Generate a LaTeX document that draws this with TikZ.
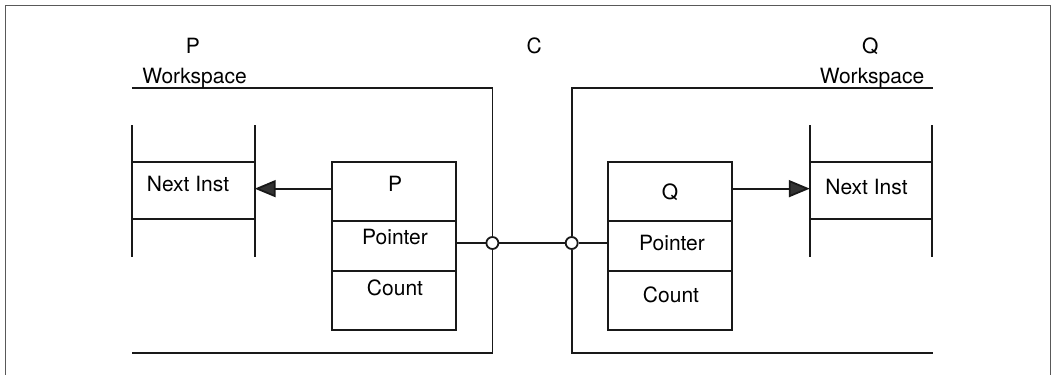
\documentclass[tikz,border=0pt]{standalone}
\usepackage{fontspec}
\setmainfont{TeX Gyre Heros}
\usetikzlibrary{arrows.meta}
\begin{document}
\begin{tikzpicture}[x=1pt,y=-1pt,
  ln/.style={line width=1.8pt, draw=black!90},
  cell/.style={ln, rectangle, inner sep=0pt, minimum width=123.5pt},
  slot/.style={rectangle, inner sep=0pt, minimum height=56.7pt},
  lbl/.style={font=\fontsize{21}{25}\selectfont, anchor=base, inner sep=0pt},
  arr/.style={ln, -{Triangle[length=21pt,width=17pt,fill=black!80]}},
  port/.style={circle, ln, fill=white, minimum size=12pt, inner sep=0pt},
  frame/.style={line width=1pt, draw=black!65}]
\useasboundingbox (0,0) rectangle (1053,375);
% outer frame
\draw[frame] (5,380) -- (5,5.3) -- (1050.7,5.3) -- (1050.7,380);

% P process descriptor
\node[cell, minimum height=58.7pt] (ptop) at (393.9,191.65) {};
\node[cell, minimum height=50pt]   (pptr) at (393.9,246) {};
\node[cell, minimum height=59pt]   (pcnt) at (393.9,300.5) {};
% Q process descriptor
\node[cell, minimum height=58.7pt] (qtop) at (670,191.65) {};
\node[cell, minimum height=50pt]   (qptr) at (670,246) {};
\node[cell, minimum height=59pt]   (qcnt) at (670,300.5) {};

% instruction stacks
\node[slot, minimum width=122.5pt] (pnext) at (193.25,190.65) {};
\node[slot, minimum width=121.6pt] (qnext) at (870.8,190.65) {};
\foreach \s in {pnext,qnext}{
  \draw[ln] (\s.north west) -- (\s.north east) (\s.south west) -- (\s.south east);
  \draw[ln] ([yshift=37pt]\s.north west) -- ([yshift=-38pt]\s.south west);
  \draw[ln] ([yshift=37pt]\s.north east) -- ([yshift=-38pt]\s.south east);
}

% ports
\node[port] (pc) at (492.4,243) {};
\node[port] (qc) at (571.7,243) {};

% workspaces
\coordinate (pwt) at (131.8,88.3);
\coordinate (pwb) at (131.8,353.3);
\coordinate (qwt) at (932.6,88.3);
\coordinate (qwb) at (932.6,353.3);
\draw[ln] (pwt) -| (pc.north);
\draw[ln] (pc.south) |- (pwb);
\draw[ln] (qwt) -| (qc.north);
\draw[ln] (qc.south) |- (qwb);

% channel
\draw[ln] (pptr.east |- pc.west) -- (pc.west);
\draw[ln] (pc.east) -- (qc.west);
\draw[ln] (qc.east) -- (qptr.west |- qc.east);

% next instruction arrows
\coordinate (pa) at ([yshift=3pt]ptop.west);
\coordinate (qa) at ([yshift=3pt]qtop.east);
\draw[arr] (pa) -- (pa -| pnext.east);
\draw[arr] (qa) -- (qa -| qnext.west);

% texts
\node[lbl] (tpnext) at (188,191.8) {Next Inst};
\node[lbl] (tqnext) at (866.5,194.5) {Next Inst};
\node[lbl] (tp)   at (395,191.8) {P};
\node[lbl] (tpp)  at (395,244.8) {Pointer};
\node[lbl] (tpc)  at (395,295.8) {Count};
\node[lbl] (tq)   at (670,199.2) {Q};
\node[lbl] (tqp)  at (672,250.8) {Pointer};
\node[lbl] (tqc)  at (671,302.5) {Count};
\node[lbl] (lp)   at (193,53.2) {P};
\node[lbl] (lpw)  at (194.5,83.5) {Workspace};
\node[lbl] (lc)   at (534.3,53.2) {C};
\node[lbl] (lq)   at (870.3,53.2) {Q};
\node[lbl] (lqw)  at (872,83.5) {Workspace};
\end{tikzpicture}
\end{document}
